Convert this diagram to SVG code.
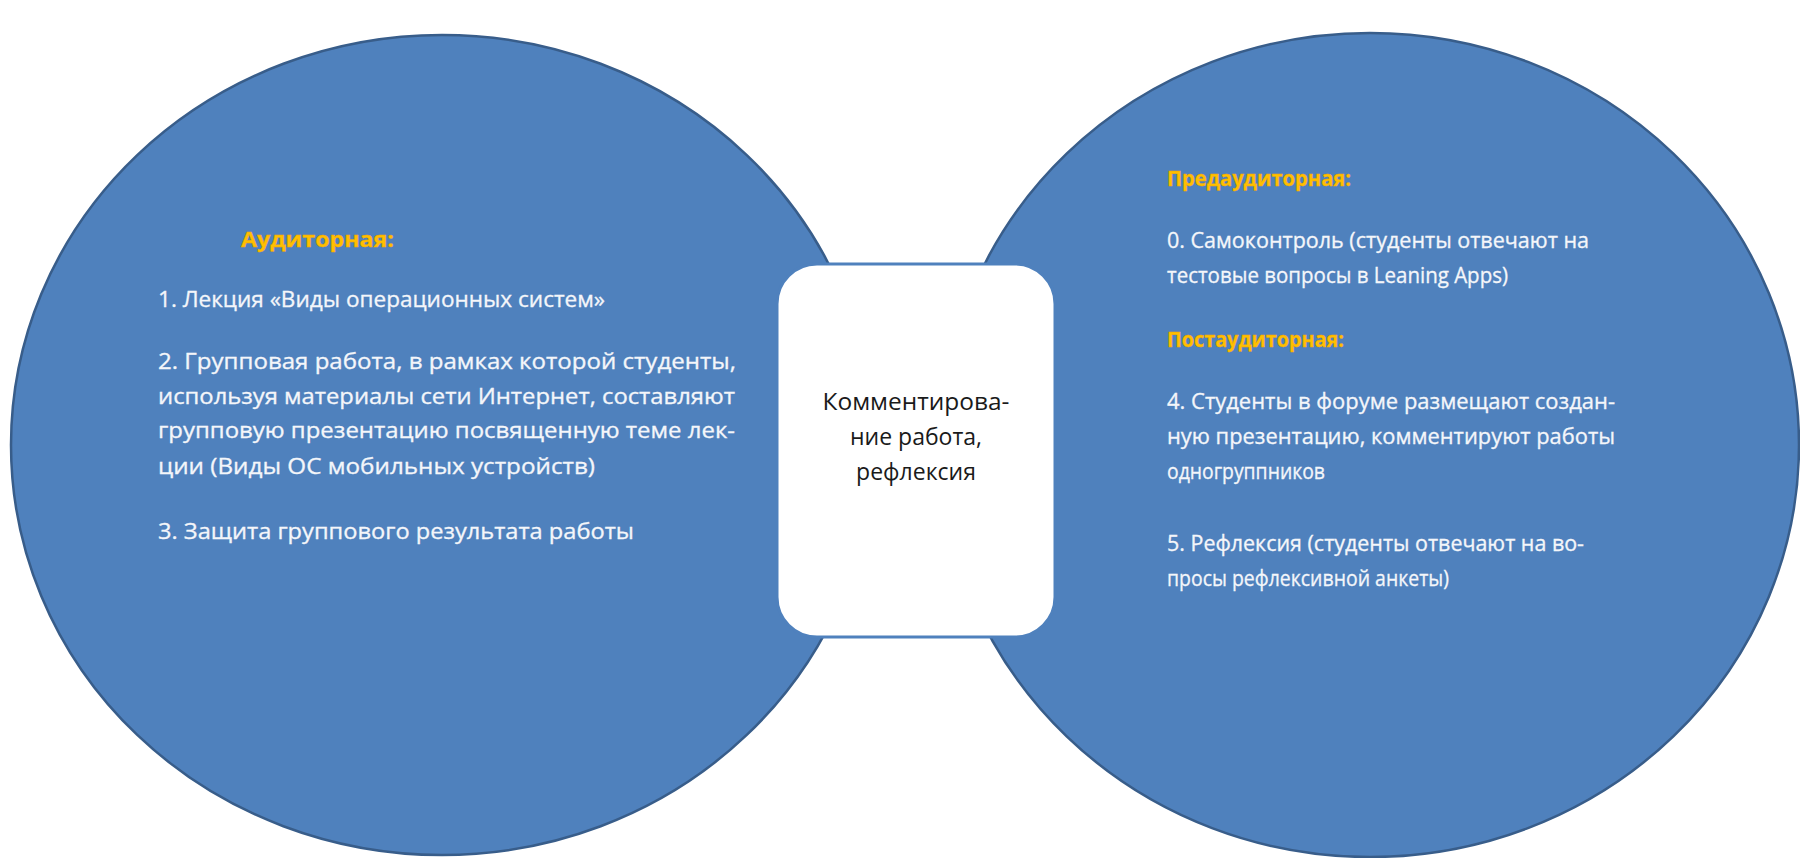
<svg xmlns="http://www.w3.org/2000/svg" width="1800" height="858" viewBox="0 0 1800 858">
<style>
.circle{fill:#4F81BD;stroke:#385D8A;stroke-width:2.5}
.box{fill:#FFFFFF;stroke:#4F81BD;stroke-width:3}
.t{font-family:"Open Sans","Noto Sans","Liberation Sans",sans-serif;font-size:21px;fill:#F4F6FA;stroke:#F4F6FA;stroke-width:0.3}
.h{font-family:"Open Sans","Noto Sans","Liberation Sans",sans-serif;font-size:21px;font-weight:bold;fill:#FFC000;stroke:#F5A300;stroke-width:0.4}
.c{font-family:"Open Sans","Noto Sans","Liberation Sans",sans-serif;font-size:23px;fill:#1A1A1A;text-anchor:middle}
</style>
<rect width="1800" height="858" fill="#FFFFFF"/>
<g id="left-circle">
<ellipse class="circle" cx="442" cy="445" rx="431" ry="410"/>
<text class="h" x="241" y="247" textLength="153" lengthAdjust="spacingAndGlyphs">Аудиторная:</text>
<text class="t" x="158" y="307" textLength="447" lengthAdjust="spacingAndGlyphs">1. Лекция «Виды операционных систем»</text>
<text class="t" x="158" y="369" textLength="578" lengthAdjust="spacingAndGlyphs">2. Групповая работа, в рамках которой студенты,</text>
<text class="t" x="158" y="404" textLength="577" lengthAdjust="spacingAndGlyphs">используя материалы сети Интернет, составляют</text>
<text class="t" x="158" y="438" textLength="577" lengthAdjust="spacingAndGlyphs">групповую презентацию посвященную теме лек-</text>
<text class="t" x="158" y="474" textLength="437" lengthAdjust="spacingAndGlyphs">ции (Виды ОС мобильных устройств)</text>
<text class="t" x="158" y="539" textLength="476" lengthAdjust="spacingAndGlyphs">3. Защита группового результата работы</text>
</g>
<g id="right-circle">
<ellipse class="circle" cx="1370" cy="445" rx="429" ry="412"/>
<text class="h" x="1167" y="186" textLength="184" lengthAdjust="spacingAndGlyphs">Предаудиторная:</text>
<text class="t" x="1167" y="248" textLength="422" lengthAdjust="spacingAndGlyphs">0. Самоконтроль (студенты отвечают на</text>
<text class="t" x="1167" y="283" textLength="341" lengthAdjust="spacingAndGlyphs">тестовые вопросы в Leaning Apps)</text>
<text class="h" x="1167" y="347" textLength="177" lengthAdjust="spacingAndGlyphs">Постаудиторная:</text>
<text class="t" x="1167" y="409" textLength="448" lengthAdjust="spacingAndGlyphs">4. Студенты в форуме размещают создан-</text>
<text class="t" x="1167" y="444" textLength="448" lengthAdjust="spacingAndGlyphs">ную презентацию, комментируют работы</text>
<text class="t" x="1167" y="479" textLength="158" lengthAdjust="spacingAndGlyphs">одногруппников</text>
<text class="t" x="1167" y="551" textLength="417" lengthAdjust="spacingAndGlyphs">5. Рефлексия (студенты отвечают на во-</text>
<text class="t" x="1167" y="586" textLength="282" lengthAdjust="spacingAndGlyphs">просы рефлексивной анкеты)</text>
</g>
<g id="center-box">
<rect class="box" x="777" y="264" width="278" height="373" rx="40" ry="40"/>
<text class="c" x="916" y="410" textLength="187" lengthAdjust="spacingAndGlyphs">Комментирова-</text>
<text class="c" x="916" y="445">ние работа,</text>
<text class="c" x="916" y="480">рефлексия</text>
</g>
<g id="connectors"/>
</svg>
